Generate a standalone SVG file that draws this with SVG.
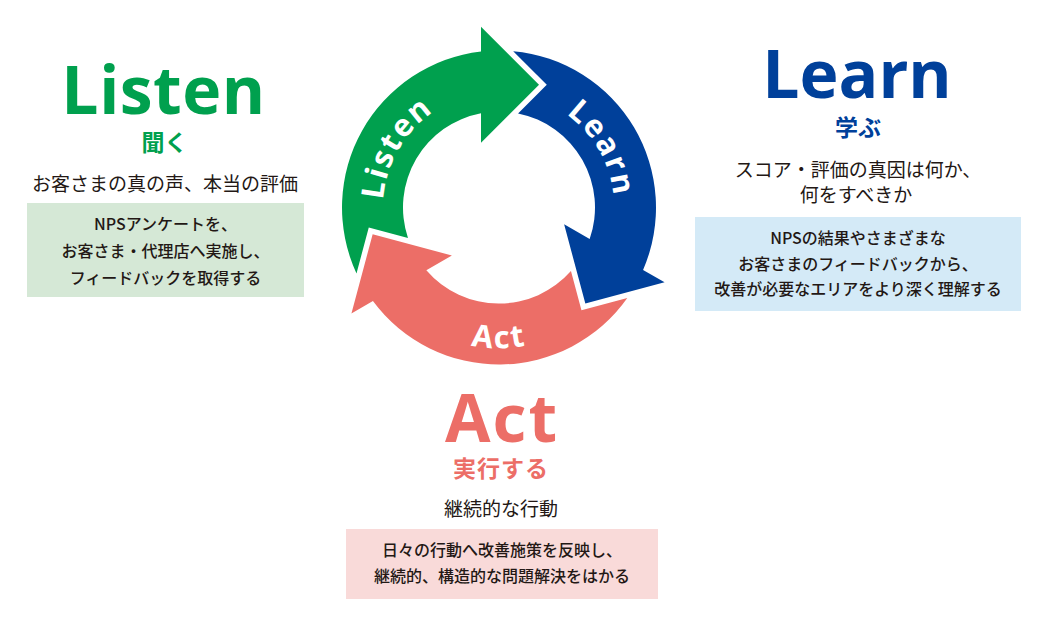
<svg xmlns="http://www.w3.org/2000/svg" xmlns:xlink="http://www.w3.org/1999/xlink" width="1047" height="626" viewBox="0 0 1047 626">
  <style>
    .title { font-family: "Open Sans", "Noto Sans", sans-serif; font-weight: 700; font-size: 66px; text-anchor: middle; }
    .sub { font-family: "Noto Sans CJK JP", sans-serif; font-weight: 700; font-size: 23px; text-anchor: middle; }
    .desc { font-family: "Noto Sans CJK JP", sans-serif; font-weight: 400; font-size: 19px; fill: #231815; text-anchor: middle; }
    .boxtext { font-family: "Noto Sans CJK JP", sans-serif; font-weight: 500; font-size: 16px; fill: #231815; text-anchor: middle; }
    .arclabel { font-family: "Open Sans", "Noto Sans", sans-serif; font-weight: 700; font-size: 31px; fill: #ffffff; letter-spacing: 2px; }
    .green { fill: #00a04e; }
    .blue { fill: #00409a; }
    .red { fill: #ec6e67; }
  </style>
  <defs>
    <path id="arrowShape" d="M 356.5 273.38 A 157 157 0 0 1 481 51.53 L 481 26.7 L 539 84.7 L 481 142.7 L 481 113.2 A 96 96 0 0 0 407.98 238.04 L 368.77 227.52 Z"/>
    <path id="arcListen" d="M 424.44 296.36 A 116 116 0 0 1 538.67 98.5"/>
    <path id="arcLearn" d="M 460.33 98.5 A 116 116 0 0 1 573.56 296.36"/>
    <path id="arcAct" d="M 366.05 230.94 A 134 134 0 0 0 631.95 230.94"/>
  </defs>

  <g id="cycle">
    <g id="arrow-listen">
      <use href="#arrowShape" class="green"/>
      <text class="arclabel"><textPath href="#arcListen" startOffset="50%" text-anchor="middle">Listen</textPath></text>
    </g>
    <g id="arrow-learn">
      <use href="#arrowShape" class="blue" transform="rotate(120 499 207.5)"/>
      <text class="arclabel"><textPath href="#arcLearn" startOffset="50%" text-anchor="middle">Learn</textPath></text>
    </g>
    <g id="arrow-act">
      <use href="#arrowShape" class="red" transform="rotate(240 499 207.5)"/>
      <text class="arclabel"><textPath href="#arcAct" startOffset="50%" text-anchor="middle">Act</textPath></text>
    </g>
  </g>

  <g id="listen">
    <text class="title green" x="163.5" y="114" font-size="67" letter-spacing="0.5">Listen</text>
    <text class="sub green" x="164.5" y="151">聞く</text>
    <text class="desc" x="165" y="190.5" font-size="19.7">お客さまの真の声、本当の評価</text>
    <rect x="27" y="203" width="277" height="94" fill="#d5e8d6"/>
    <text class="boxtext" x="165.5" y="230">NPSアンケートを、</text>
    <text class="boxtext" x="165.5" y="257">お客さま・代理店へ実施し、</text>
    <text class="boxtext" x="165.5" y="284">フィードバックを取得する</text>
  </g>

  <g id="learn">
    <text class="title blue" x="857" y="98" font-size="64">Learn</text>
    <text class="sub blue" x="858" y="136" font-size="24">学ぶ</text>
    <text class="desc" x="858" y="176.5">スコア・評価の真因は何か、</text>
    <text class="desc" x="856" y="202">何をすべきか</text>
    <rect x="695" y="217" width="326" height="94" fill="#d4eaf7"/>
    <text class="boxtext" x="858" y="244">NPSの結果やさまざまな</text>
    <text class="boxtext" x="858" y="269.5">お客さまのフィードバックから、</text>
    <text class="boxtext" x="858" y="295">改善が必要なエリアをより深く理解する</text>
  </g>

  <g id="act">
    <text class="title red" x="502" y="442" font-size="68" letter-spacing="2">Act</text>
    <text class="sub red" x="501" y="477" font-size="24" letter-spacing="1">実行する</text>
    <text class="desc" x="501" y="516" font-size="19.5">継続的な行動</text>
    <rect x="346" y="529" width="312" height="70" fill="#f9dad9"/>
    <text class="boxtext" x="502" y="556">日々の行動へ改善施策を反映し、</text>
    <text class="boxtext" x="502" y="582">継続的、構造的な問題解決をはかる</text>
  </g>
</svg>
